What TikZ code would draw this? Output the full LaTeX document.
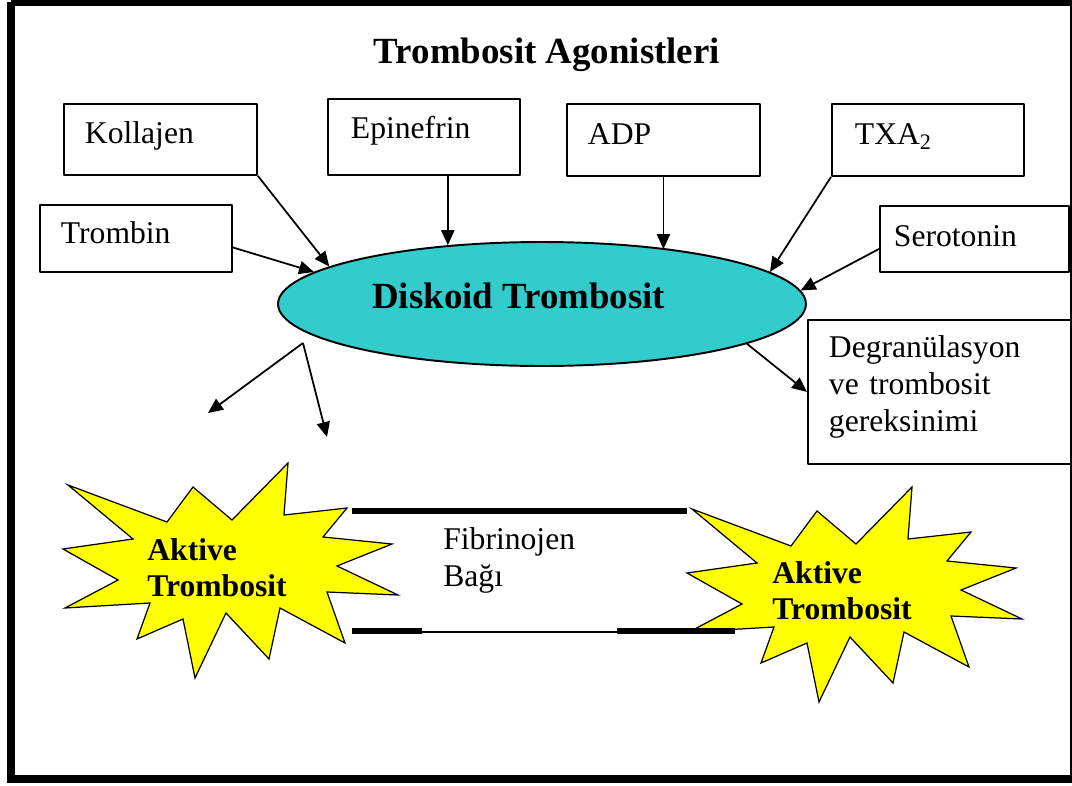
\documentclass[tikz,border=0pt]{standalone}
\usepackage{fontspec}
\setmainfont{Liberation Serif}
\usepackage{xcolor}
\usetikzlibrary{arrows.meta,shapes.geometric}

\definecolor{diskcyan}{RGB}{51,204,204}
\definecolor{burstyellow}{RGB}{255,255,0}

\tikzset{
  agent/.style={draw,line width=1.1pt,anchor=north west,inner ysep=0pt,align=left,
    font=\fontsize{18}{21}\selectfont},
  feed/.style={->,line width=1pt},
  burst/.pic={
    \filldraw[fill=burstyellow,line width=0.7pt,line join=miter]
      (288,463) -- (232,520) -- (193,487) -- (167,522) -- (68,485) -- (133,539)
      -- (63,549) -- (118,580) -- (65,608) -- (150,603) -- (137,639) -- (183,619)
      -- (195,678) -- (226,613) -- (269,659) -- (280,608) -- (345,643) -- (327,592)
      -- (398,595) -- (337,566) -- (392,544) -- (323,537) -- (347,508) -- (284,515)
      -- cycle;
  }
}

\begin{document}
\begin{tikzpicture}[x=0.02cm,y=-0.02cm,>={Triangle[length=8.5pt,width=7.5pt]},line join=round]
  \useasboundingbox (0,0) rectangle (1072,785);
  \draw[line width=0.16cm,line join=miter] (11,2) -- (11,779) -- (1080,779);
  \draw[line width=0.16cm,line join=miter] (11,2) -- (1080,2);
  \draw[line width=0.6pt] (1071,0) -- (1071,775);

  \node[font=\fontsize{21}{25}\selectfont\bfseries,anchor=base] (title) at (547,63) {Trombosit Agonistleri};

  \node[agent,inner xsep=0.42cm,text width=3.02cm,text height=0.80cm,text depth=0.62cm] (kol) at (63,103) {Kollajen};
  \node[agent,inner xsep=0.46cm,text width=2.92cm,text height=0.80cm,text depth=0.72cm] (epi) at (327,98) {Epinefrin};
  \node[agent,inner xsep=0.42cm,text width=3.02cm,text height=0.82cm,text depth=0.62cm] (adp) at (566,103) {ADP};
  \node[agent,inner xsep=0.46cm,text width=2.92cm,text height=0.82cm,text depth=0.62cm] (txa) at (831,103) {TXA\textsubscript{2}};
  \node[agent,inner xsep=0.42cm,text width=3.00cm,text height=0.78cm,text depth=0.56cm] (trb) at (39,204) {Trombin};
  \node[agent,inner xsep=0.28cm,text width=3.22cm,text height=0.82cm,text depth=0.50cm] (ser) at (879,205) {Serotonin};

  \node[ellipse,draw,fill=diskcyan,line width=1.1pt,inner sep=0pt,minimum width=10.56cm,minimum height=2.48cm] (disk) at (542,304) {};
  \node[font=\fontsize{21}{25}\selectfont\bfseries,anchor=base west,inner sep=0pt] (disklabel) at (372,308) {Diskoid Trombosit};

  \node[agent,inner xsep=0.42cm,text width=4.44cm,text height=0.76cm,text depth=2.12cm] (deg) at (807,319) {Degranülasyon\\ve trombosit\\gereksinimi};

  \draw[feed] (kol.south east) -- (disk.170);
  \draw[feed] (disk.148 |- epi.south) -- (disk.148);
  \draw[feed] (adp.south) -- (disk.23 -| adp.south);
  \draw[feed] (txa.south west) -- (disk.8);
  \draw[feed] ([yshift=-0.18cm]trb.east) -- (disk.172);
  \draw[feed] ([yshift=-0.2cm]ser.west) -- (disk.3);
  \draw[feed] (disk.-11) -- (deg.west);

  \coordinate (fork) at (303,343);
  \coordinate (forkL) at (208,413);
  \coordinate (forkD) at (327,437);
  \draw[feed] (fork) -- (forkL);
  \draw[feed] (fork) -- (forkD);

  \pic at (0,0) {burst};
  \pic at (624,24) {burst};

  \draw[line width=3.2pt] (352,511) -- (687,511);
  \draw[line width=3.2pt] (352,631) -- (422,631);
  \draw[line width=1.3pt] (422,632) -- (617,632);
  \draw[line width=3.2pt] (617,631) -- (735,631);

  \node[anchor=base west,inner sep=0pt,text width=3.4cm,align=left,font=\fontsize{18}{21}\selectfont\bfseries] (actL) at (147,560) {Aktive\\Trombosit};
  \node[anchor=base west,inner sep=0pt,text width=3.4cm,align=left,font=\fontsize{18}{21}\selectfont\bfseries] (actR) at (772,583) {Aktive\\Trombosit};
  \node[anchor=base west,inner sep=0pt,text width=3cm,align=left,font=\fontsize{18}{21.5}\selectfont] (fib) at (443,549) {Fibrinojen\\Bağı};
\end{tikzpicture}
\end{document}
